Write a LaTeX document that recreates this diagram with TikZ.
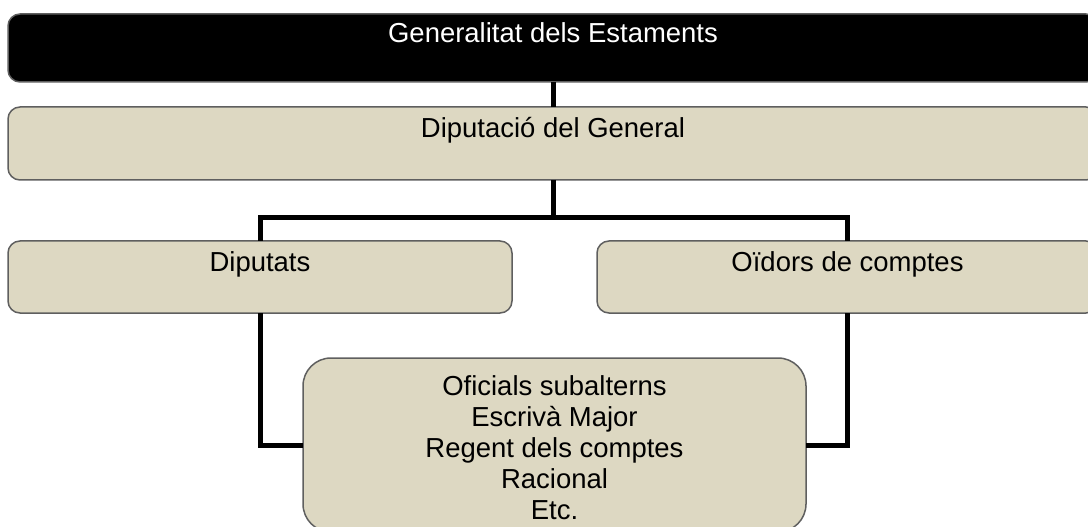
\documentclass[tikz,border=0pt]{standalone}
\usepackage{fontspec}
\setmainfont{Liberation Sans}
\definecolor{boxfill}{HTML}{DDD8C2}
\definecolor{boxline}{HTML}{5F5F5F}
\newlength\pxu
\setlength\pxu{0.75pt}
\tikzset{
  orgbox/.style={draw=boxline, line width=1.5\pxu, fill=boxfill, rounded corners=12\pxu,
    inner sep=0pt, outer sep=0pt, anchor=north west, font=\fontsize{20.6}{23.25}\selectfont, text=black},
  topbox/.style={orgbox, fill=black, text=white},
  bigbox/.style={orgbox, rounded corners=28\pxu},
  link/.style={line width=5\pxu, draw=black},
}
\newcommand\boxtext[4]{\parbox[t][#2\pxu][t]{#1\pxu}{\centering\vspace*{#3\pxu}\strut #4}}
\begin{document}
\begin{tikzpicture}[x=\pxu, y=-\pxu]
\useasboundingbox (0,0) rectangle (1088,527);
\clip (0,0) rectangle (1088,527);
\node[topbox] (gen) at (8,14) {\boxtext{1090}{68}{7.3}{Generalitat dels Estaments}};
\node[orgbox] (dip) at (8,107) {\boxtext{1090}{73}{9.3}{Diputació del General}};
\node[orgbox] (dipu) at (8,241) {\boxtext{504}{72}{9.3}{Diputats}};
\node[orgbox] (oid) at (597,241) {\boxtext{501}{72}{9.3}{Oïdors de comptes}};
\node[bigbox] (sub) at (303,358) {\boxtext{503}{174}{15.3}{Oficials subalterns\\Escrivà Major\\Regent dels comptes\\Racional\\Etc.}};
\coordinate (split) at (553,218);
\draw[link] (gen.south) -- (dip.north);
\draw[link] (dip.south) -- (split);
\draw[link] (split) -| (dipu.north);
\draw[link] (split) -| (oid.north);
\draw[link] (dipu.south) |- (sub.west);
\draw[link] (oid.south) |- (sub.east);
\end{tikzpicture}
\end{document}
